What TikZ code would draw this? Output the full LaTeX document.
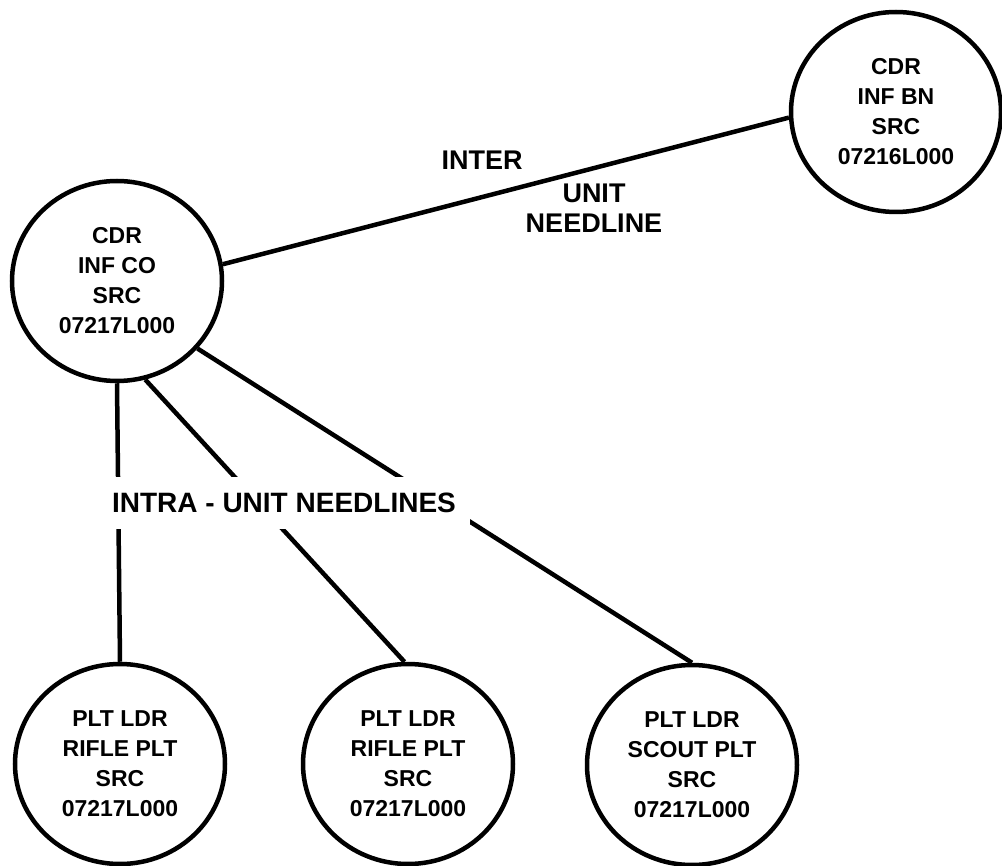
\documentclass[tikz,border=0pt]{standalone}
\usepackage{fontspec}
\setmainfont{Liberation Sans}
\usetikzlibrary{shapes.geometric}
\begin{document}
\begin{tikzpicture}[x=1pt,y=-1pt,
  post/.style={draw, line width=4.5pt, ellipse, minimum width=210pt, minimum height=200pt,
    inner sep=0pt, align=center, font=\fontsize{23}{30}\selectfont\bfseries},
  link/.style={line width=4.5pt},
  caption/.style={align=center, font=\fontsize{27}{30}\selectfont\bfseries}]
  \useasboundingbox (0,0) rectangle (1002,866);

  % command posts
  \node[post] (co) at (117,281) {CDR\\INF CO\\SRC\\07217L000};
  \node[post] (bn) at (896,112) {CDR\\INF BN\\SRC\\07216L000};
  \node[post] (p1) at (120,764) {PLT LDR\\RIFLE PLT\\SRC\\07217L000};
  \node[post] (p2) at (408,764) {PLT LDR\\RIFLE PLT\\SRC\\07217L000};
  \node[post] (p3) at (692,765) {PLT LDR\\SCOUT PLT\\SRC\\07217L000};

  % needlines
  \draw[link] (co.9) -- (bn.183);
  \draw[link] (co.south) -- (p1.north);
  \draw[link] (co.-74) -- (p2.92);
  \draw[link] (co.-40) -- (p3.90);

  % labels
  \node[caption] (inter) at (482,160) {INTER};
  \node[caption] (unit) at (594,208) {UNIT\\NEEDLINE};
  \node[caption, fill=white, inner xsep=14pt, inner ysep=16pt,
    font=\fontsize{28}{30}\selectfont\bfseries] (intra) at (284,503)
    {INTRA - UNIT NEEDLINES};
\end{tikzpicture}
\end{document}
